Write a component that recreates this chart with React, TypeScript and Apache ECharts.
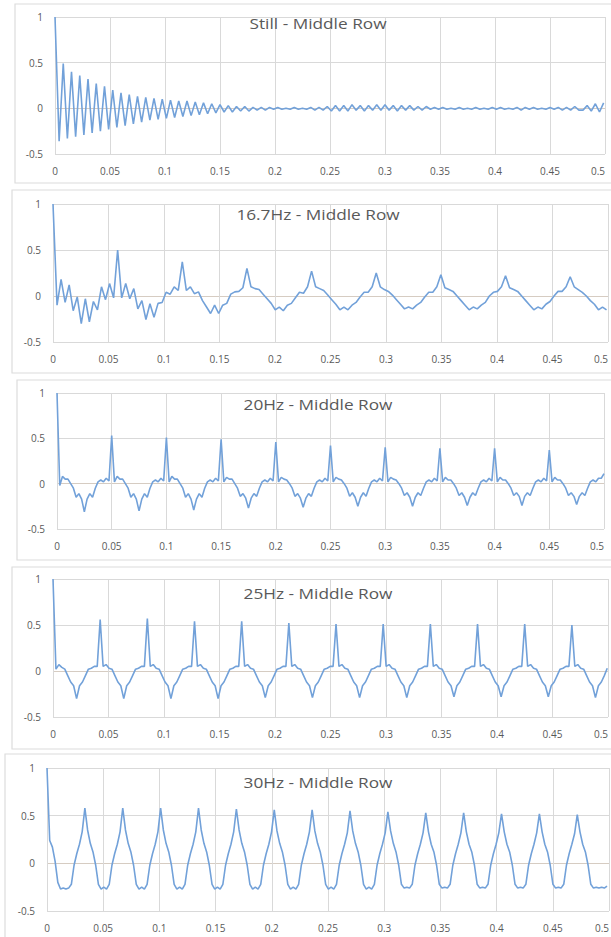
import React, { useEffect, useRef } from "react";
import * as echarts from "echarts";

// ---- data: sampled autocorrelation curves (value per sample, sample step per panel) ----
const TITLES = ["Still - Middle Row", "16.7Hz - Middle Row", "20Hz - Middle Row", "25Hz - Middle Row", "30Hz - Middle Row"];
const X_TICKS = [0, 0.05, 0.1, 0.15, 0.2, 0.25, 0.3, 0.35, 0.4, 0.45, 0.5];
const Y_TICKS = [-0.5, 0, 0.5, 1];

const STILL_DT = 0.00375;
const STILL = [
  1, -0.36, 0.49, -0.33, 0.40, -0.31, 0.36, -0.29, 0.32, -0.27,
  0.27, -0.25, 0.24, -0.23, 0.20, -0.21, 0.17, -0.19, 0.15, -0.17,
  0.13, -0.15, 0.12, -0.13, 0.11, -0.12, 0.10, -0.11, 0.09, -0.10,
  0.08, -0.09, 0.08, -0.08, 0.07, -0.07, 0.06, -0.06, 0.05, -0.05,
  0.04, -0.04, 0.03, -0.04, 0.02, -0.03, 0.02, -0.03, 0.01, -0.02,
  0.01, -0.02, 0.01, -0.01, 0.01, -0.01, 0.0, -0.01, 0.01, -0.01,
  0.0, -0.01, 0.01, -0.02, 0.01, -0.02, 0.02, -0.03, 0.03, -0.03,
  0.03, -0.03, 0.04, -0.02, 0.03, -0.03, 0.03, -0.02, 0.04, -0.02,
  0.04, -0.02, 0.03, -0.03, 0.03, -0.02, 0.03, -0.02, 0.02, -0.02,
  0.02, -0.01, 0.01, -0.01, 0.01, -0.01, 0.0, -0.01, 0.01, -0.01,
  0.0, -0.01, 0.01, -0.01, 0.0, -0.01, 0.01, -0.01, 0.01, -0.01,
  0.0, -0.01, 0.01, -0.02, 0.01, -0.01, 0.01, -0.01, 0.0, -0.01,
  0.01, -0.01, 0.01, -0.02, 0.01, -0.02, 0.02, -0.02, -0.02, 0.03,
  -0.03, 0.05, -0.04, 0.06,
];

const HZ167_DT = 0.00364;
const HZ167 = [
  1, -0.10, 0.18, -0.07, 0.12, -0.16, -0.01, -0.30, -0.03, -0.28, -0.06, -0.15, 0.10, -0.04, 0.135, -0.02, 0.50,
  -0.02, 0.135, -0.03, 0.08, -0.14, -0.05, -0.255, -0.085, -0.23, -0.08, -0.07, 0.04, 0.02, 0.10, 0.06, 0.37,
  0.06, 0.10, 0.025, 0.045, -0.05, -0.12, -0.19, -0.10, -0.19, -0.10, -0.08, 0.02, 0.045, 0.05, 0.09, 0.30,
  0.10, 0.08, 0.07, 0.02, -0.03, -0.08, -0.15, -0.12, -0.16, -0.10, -0.08, -0.02, 0.04, 0.03, 0.10, 0.27,
  0.10, 0.08, 0.06, 0.01, -0.04, -0.09, -0.15, -0.12, -0.15, -0.10, -0.07, -0.01, 0.04, 0.04, 0.10, 0.25,
  0.10, 0.07, 0.05, 0.01, -0.04, -0.09, -0.14, -0.12, -0.14, -0.10, -0.07, -0.01, 0.04, 0.04, 0.10, 0.23,
  0.09, 0.07, 0.05, 0.0, -0.05, -0.10, -0.15, -0.12, -0.14, -0.10, -0.07, 0.0, 0.04, 0.05, 0.10, 0.22,
  0.09, 0.07, 0.05, 0.0, -0.05, -0.10, -0.15, -0.12, -0.14, -0.09, -0.06, 0.0, 0.05, 0.05, 0.10, 0.21,
  0.10, 0.07, 0.04, 0.0, -0.05, -0.09, -0.15, -0.12, -0.15,
];

const HZ20_DT = 0.0025;
const HZ20 = [
  1, -0.02, 0.08, 0.05, 0.05, 0.0, -0.05, -0.15, -0.11, -0.17, -0.31, -0.17, -0.11, -0.15, -0.05, 0.02, 0.04, 0.02, 0.06, 0.03,
  0.53, 0.02, 0.08, 0.05, 0.05, 0.0, -0.05, -0.15, -0.11, -0.17, -0.30, -0.17, -0.11, -0.15, -0.05, 0.02, 0.04, 0.02, 0.06, 0.03,
  0.51, 0.02, 0.08, 0.05, 0.05, 0.0, -0.05, -0.15, -0.11, -0.17, -0.29, -0.17, -0.11, -0.15, -0.05, 0.02, 0.04, 0.02, 0.06, 0.03,
  0.49, 0.02, 0.07, 0.05, 0.05, 0.0, -0.05, -0.14, -0.11, -0.16, -0.27, -0.16, -0.11, -0.14, -0.05, 0.02, 0.04, 0.02, 0.06, 0.03,
  0.46, 0.02, 0.07, 0.05, 0.04, 0.0, -0.05, -0.14, -0.11, -0.16, -0.26, -0.16, -0.11, -0.14, -0.05, 0.02, 0.04, 0.02, 0.06, 0.03,
  0.42, 0.02, 0.07, 0.05, 0.04, 0.0, -0.05, -0.14, -0.10, -0.15, -0.25, -0.15, -0.10, -0.14, -0.05, 0.02, 0.04, 0.02, 0.06, 0.03,
  0.40, 0.02, 0.07, 0.05, 0.04, 0.0, -0.05, -0.13, -0.10, -0.15, -0.25, -0.15, -0.10, -0.13, -0.05, 0.02, 0.04, 0.02, 0.06, 0.03,
  0.39, 0.02, 0.07, 0.04, 0.04, 0.0, -0.05, -0.13, -0.10, -0.15, -0.24, -0.15, -0.10, -0.13, -0.05, 0.02, 0.04, 0.02, 0.06, 0.03,
  0.39, 0.02, 0.07, 0.04, 0.04, 0.0, -0.05, -0.13, -0.10, -0.14, -0.24, -0.14, -0.10, -0.13, -0.05, 0.02, 0.04, 0.02, 0.06, 0.03,
  0.37, 0.02, 0.07, 0.04, 0.04, 0.0, -0.05, -0.13, -0.10, -0.14, -0.23, -0.14, -0.10, -0.13, -0.05, 0.02, 0.04, 0.02, 0.06, 0.06,
  0.11,
];

const HZ25_DT = 0.002656;
const HZ25 = [
  1, 0.02, 0.07, 0.04, 0.02, -0.05, -0.12, -0.16, -0.30, -0.16, -0.12, -0.05, 0.02, 0.03, 0.05, 0.05,
  0.56, 0.05, 0.07, 0.03, 0.02, -0.05, -0.12, -0.16, -0.30, -0.16, -0.12, -0.05, 0.02, 0.03, 0.05, 0.05,
  0.57, 0.05, 0.07, 0.03, 0.02, -0.05, -0.12, -0.16, -0.30, -0.16, -0.12, -0.05, 0.02, 0.03, 0.05, 0.05,
  0.54, 0.05, 0.07, 0.03, 0.02, -0.05, -0.12, -0.16, -0.30, -0.16, -0.12, -0.05, 0.02, 0.03, 0.05, 0.05,
  0.54, 0.05, 0.07, 0.03, 0.02, -0.05, -0.12, -0.16, -0.29, -0.16, -0.12, -0.05, 0.02, 0.03, 0.05, 0.05,
  0.52, 0.05, 0.07, 0.03, 0.02, -0.05, -0.12, -0.16, -0.29, -0.16, -0.12, -0.05, 0.02, 0.03, 0.05, 0.05,
  0.51, 0.05, 0.07, 0.03, 0.02, -0.05, -0.12, -0.16, -0.29, -0.16, -0.12, -0.05, 0.02, 0.03, 0.05, 0.05,
  0.51, 0.05, 0.07, 0.03, 0.02, -0.05, -0.12, -0.16, -0.29, -0.16, -0.12, -0.05, 0.02, 0.03, 0.05, 0.05,
  0.51, 0.05, 0.07, 0.03, 0.02, -0.05, -0.12, -0.16, -0.28, -0.16, -0.12, -0.05, 0.02, 0.03, 0.05, 0.05,
  0.51, 0.05, 0.07, 0.03, 0.02, -0.05, -0.12, -0.16, -0.28, -0.16, -0.12, -0.05, 0.02, 0.03, 0.05, 0.05,
  0.51, 0.05, 0.07, 0.03, 0.02, -0.05, -0.12, -0.16, -0.28, -0.16, -0.12, -0.05, 0.02, 0.03, 0.05, 0.05,
  0.50, 0.05, 0.07, 0.03, 0.02, -0.05, -0.12, -0.16, -0.29, -0.16, -0.12, -0.05, 0.03,
];

const HZ30_DT = 0.002407;
const HZ30 = [
  1, 0.24, 0.17, 0.02, -0.20, -0.27, -0.26, -0.27, -0.26, -0.22, -0.02, 0.10, 0.20, 0.33,
  0.58, 0.35, 0.21, 0.12, -0.02, -0.22, -0.27, -0.25, -0.27, -0.22, -0.02, 0.10, 0.20, 0.33,
  0.58, 0.35, 0.21, 0.12, -0.02, -0.22, -0.27, -0.25, -0.27, -0.22, -0.02, 0.10, 0.20, 0.33,
  0.58, 0.35, 0.21, 0.12, -0.02, -0.22, -0.27, -0.25, -0.27, -0.22, -0.02, 0.10, 0.20, 0.33,
  0.58, 0.35, 0.21, 0.12, -0.02, -0.22, -0.27, -0.25, -0.27, -0.22, -0.02, 0.10, 0.20, 0.33,
  0.57, 0.35, 0.21, 0.12, -0.02, -0.22, -0.27, -0.25, -0.27, -0.22, -0.02, 0.10, 0.20, 0.33,
  0.56, 0.34, 0.21, 0.12, -0.02, -0.22, -0.27, -0.25, -0.27, -0.22, -0.02, 0.10, 0.20, 0.33,
  0.56, 0.34, 0.21, 0.12, -0.02, -0.22, -0.27, -0.25, -0.27, -0.22, -0.02, 0.10, 0.20, 0.32,
  0.55, 0.34, 0.21, 0.12, -0.02, -0.22, -0.27, -0.25, -0.27, -0.22, -0.02, 0.10, 0.20, 0.32,
  0.54, 0.34, 0.21, 0.12, -0.02, -0.22, -0.26, -0.25, -0.26, -0.22, -0.02, 0.10, 0.20, 0.32,
  0.53, 0.33, 0.20, 0.12, -0.02, -0.22, -0.26, -0.25, -0.26, -0.22, -0.02, 0.10, 0.20, 0.32,
  0.53, 0.33, 0.20, 0.12, -0.02, -0.22, -0.26, -0.25, -0.26, -0.22, -0.02, 0.10, 0.20, 0.32,
  0.52, 0.33, 0.20, 0.12, -0.02, -0.22, -0.26, -0.25, -0.26, -0.22, -0.02, 0.10, 0.20, 0.32,
  0.52, 0.33, 0.20, 0.12, -0.02, -0.22, -0.26, -0.25, -0.26, -0.22, -0.02, 0.10, 0.20, 0.31,
  0.51, 0.33, 0.20, 0.12, -0.02, -0.22, -0.26, -0.25, -0.26, -0.25, -0.26, -0.24,
];

const SERIES = [
  { y: STILL, dt: STILL_DT },
  { y: HZ167, dt: HZ167_DT },
  { y: HZ20, dt: HZ20_DT },
  { y: HZ25, dt: HZ25_DT },
  { y: HZ30, dt: HZ30_DT },
];

// ---- layout (pixels) ----
const LAYOUT = [
  { grid: { left: 55, top: 17, width: 550, height: 137 }, titleY: 23, frame: [15, 4, 640, 179] },
  { grid: { left: 53, top: 204, width: 555, height: 138 }, titleY: 214, frame: [12, 190, 640, 183] },
  { grid: { left: 57, top: 393, width: 547, height: 136 }, titleY: 404, frame: [17, 380, 640, 180] },
  { grid: { left: 53, top: 579, width: 555, height: 138 }, titleY: 593, frame: [12, 567, 640, 182] },
  { grid: { left: 47, top: 768, width: 562, height: 143 }, titleY: 782, frame: [5, 754, 640, 220] },
];

const TEXT = "#595959";
const GRID_LINE = "#d9d9d9";
const ZERO_LINE = "#d6ccc2";
const LINE = "#72a1d9";
const FONT = "'Open Sans', 'Liberation Sans', sans-serif";

function fmt(v: number) {
  return String(Math.round(v * 100) / 100);
}

export default function App() {
  const ref = useRef<HTMLDivElement>(null);
  useEffect(() => {
    if (!ref.current) return;
    const chart = echarts.init(ref.current, null, { renderer: "svg" });
    const grids = LAYOUT.map((l) => ({ ...l.grid, containLabel: false, outerBoundsMode: "none" }));
    const xAxes = LAYOUT.map((_, i) => ({
      type: "value",
      gridIndex: i,
      min: X_TICKS[0],
      max: X_TICKS[X_TICKS.length - 1],
      interval: 0.05,
      axisLine: { show: false },
      axisTick: { show: false },
      axisLabel: {
        color: TEXT,
        fontSize: 10,
        fontFamily: FONT,
        margin: 12,
        formatter: fmt,
        showMaxLabel: true,
        showMinLabel: true,
        hideOverlap: false,
        alignMaxLabel: "right",
      },
      splitLine: { show: true, lineStyle: { color: GRID_LINE, width: 1 } },
    }));
    const yAxes = LAYOUT.map((_, i) => ({
      type: "value",
      gridIndex: i,
      min: Y_TICKS[0],
      max: Y_TICKS[Y_TICKS.length - 1],
      interval: 0.5,
      axisLine: { show: false },
      axisTick: { show: false },
      axisLabel: { color: TEXT, fontSize: 10, fontFamily: FONT, margin: 12, formatter: fmt },
      splitLine: { show: true, lineStyle: { color: [GRID_LINE, ZERO_LINE, GRID_LINE, GRID_LINE], width: 1 } },
    }));
    const series = SERIES.map((s, i) => ({
      type: "line",
      xAxisIndex: i,
      yAxisIndex: i,
      data: s.y.map((v, k) => [k * s.dt, v]),
      showSymbol: false,
      symbol: "none",
      lineStyle: { color: LINE, width: 1.6 },
      silent: true,
      z: 3,
    }));
    const graphics: any[] = [];
    LAYOUT.forEach((l, i) => {
      graphics.push({
        type: "rect",
        shape: { x: l.frame[0], y: l.frame[1], width: l.frame[2], height: l.frame[3] },
        style: { fill: "#ffffff", stroke: "#dcdcdc", lineWidth: 1.2 },
        z: -10,
        silent: true,
      });
      graphics.push({
        type: "text",
        x: 318,
        y: l.titleY,
        scaleX: 1.15,
        style: {
          text: TITLES[i],
          fill: TEXT,
          font: `15px ${FONT}`,
          textAlign: "center",
          align: "center",
          textVerticalAlign: "middle",
          verticalAlign: "middle",
        },
        z: 10,
        silent: true,
      });
    });
    chart.setOption({
      animation: false,
      backgroundColor: "#ffffff",
      grid: grids,
      xAxis: xAxes,
      yAxis: yAxes,
      series,
      graphic: { elements: graphics },
    });
    return () => chart.dispose();
  }, []);
  return (
    <div style={{ position: "absolute", left: 0, top: 0, width: 611, height: 937, overflow: "hidden" }}>
      <div ref={ref} style={{ width: 611, height: 937 }} />
    </div>
  );
}
